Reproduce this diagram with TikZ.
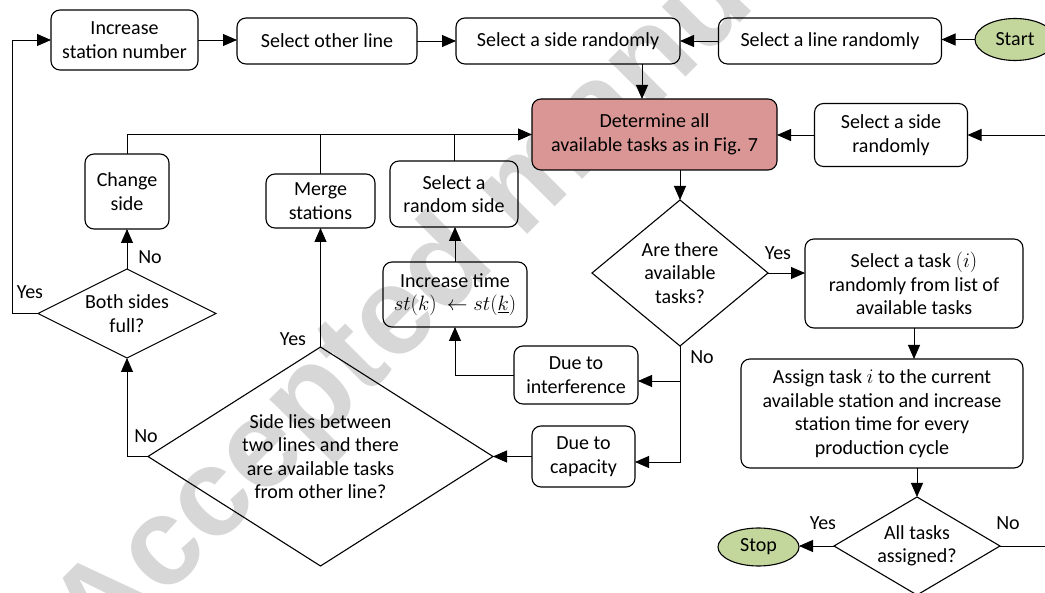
\documentclass[tikz,border=0pt]{standalone}
\usepackage{fontspec}
\setmainfont{Carlito}
\newfontfamily\wmfont{Liberation Sans}
\usetikzlibrary{shapes.geometric,arrows.meta}
\definecolor{detfill}{RGB}{217,150,148}
\definecolor{termfill}{RGB}{195,214,155}
\definecolor{wmgray}{RGB}{215,215,215}
\begin{document}
\begin{tikzpicture}[x=1pt,y=-1pt,
  font=\fontsize{20}{23.5}\selectfont,
  box/.style={draw, rounded corners=9pt, line width=1.1pt, align=center, inner sep=0pt, outer sep=0pt},
  term/.style={draw, ellipse, line width=1.1pt, fill=termfill, inner sep=0pt, outer sep=0pt},
  dia/.style={draw, diamond, line width=1.1pt, inner sep=0pt, outer sep=0pt},
  dtext/.style={align=center, inner sep=0pt},
  lbl/.style={inner sep=0pt},
  conn/.style={line width=0.9pt},
  arr/.style={conn, -{Triangle[length=14pt,width=12pt]}}
]
\useasboundingbox (0,0) rectangle (1045,593);
\clip (0,0) rectangle (1045,593);

% watermark
\node[rotate=45, text=wmgray, inner sep=0pt, font=\wmfont\bfseries\fontsize{125}{125}\selectfont] (wm) at (526,191) {Accepted manuscript};

% top row
\node[box, minimum width=147, minimum height=60] (inc) at (124.5,40) {Increase\\station number};
\node[box, minimum width=180, minimum height=46] (other) at (327,41) {Select other line};
\node[box, minimum width=224, minimum height=46] (sideTop) at (568,41) {Select a side randomly};
\node[box, minimum width=223, minimum height=46] (lineR) at (830,41) {Select a line randomly};
\node[term, minimum width=80, minimum height=42] (start) at (1015,39.5) {Start};

% second row
\node[box, fill=detfill, minimum width=245, minimum height=71] (det) at (654.5,134.5) {Determine all\\available tasks as in Fig. 7};
\node[box, minimum width=153, minimum height=63] (sideR) at (891,135) {Select a side\\randomly};

% right column
\node[dia, minimum width=176, minimum height=146] (are) at (680,273) {};
\node[dtext] (aret) at (are) {Are there\\available\\tasks?};
\node[box, minimum width=218, minimum height=89] (selTask) at (914,283.5) {Select a task $(i)$\\randomly from list of\\available tasks};
\node[box, minimum width=282, minimum height=109] (assign) at (882,413.5) {Assign task $i$ to the current\\available station and increase\\station time for every\\production cycle};
\node[dia, minimum width=166, minimum height=98] (allT) at (917,546) {};
\node[dtext] (allTt) at (allT) {All tasks\\assigned?};
\node[term, minimum width=81, minimum height=38] (stop) at (758.5,547) {Stop};

% middle
\node[box, minimum width=124, minimum height=58] (interf) at (576,375) {Due to\\interference};
\node[box, minimum width=103, minimum height=61] (cap) at (583.5,456.5) {Due to\\capacity};
\node[dia, minimum width=345, minimum height=219] (big) at (320.5,456.5) {};
\node[dtext] (bigt) at (big) {Side lies between\\two lines and there\\are available tasks\\from other line?};
\node[box, minimum width=109, minimum height=54] (merge) at (320.5,201) {Merge\\stations};
\node[box, minimum width=128, minimum height=66] (rand) at (454,194) {Select a\\random side};
\node[box, minimum width=144, minimum height=65] (incT) at (455,294.5) {Increase time\\$st(k)\ \leftarrow st(\underline{k})$};
\node[box, minimum width=84, minimum height=75] (change) at (127,191.5) {Change\\side};
\node[dia, minimum width=178, minimum height=89] (both) at (127,313.5) {};
\node[dtext] (botht) at (both) {Both sides\\full?};

% labels
\node[lbl] (l1) at (778,253) {Yes};
\node[lbl] (l2) at (702,357) {No};
\node[lbl] (l3) at (30,292) {Yes};
\node[lbl] (l4) at (150,257) {No};
\node[lbl] (l5) at (293,339) {Yes};
\node[lbl] (l6) at (146,436) {No};
\node[lbl] (l7) at (823,523) {Yes};
\node[lbl] (l8) at (1008,523) {No};

% connectors top row
\draw[arr] (start.west) -- (start.west -| lineR.east);
\draw[arr] (lineR.west) -- (lineR.west -| sideTop.east);
\draw[arr] (other.east) -- (other.east -| sideTop.west);
\draw[arr] (inc.east) -- (inc.east -| other.west);
\draw[arr] (sideTop.south -| 642,0) -- (det.north -| 642,0);
\draw[arr] (sideR.west) -- (sideR.west -| det.east);
\draw[arr] (allT.east) -- (1070,546) -- (1070,135) -- (sideR.east |- 0,135);

% right column
\draw[arr] (det.south -| are.north) -- (are.north);
\draw[arr] (are.east) -- (are.east -| selTask.west);
\draw[arr] (selTask.south) -- (selTask.south |- assign.north);
\draw[arr] (assign.south -| allT.north) -- (allT.north);
\draw[arr] (allT.west) -- (allT.west -| stop.east);

% No branch
\draw[arr] (are.south) -- (are.south |- 0,462) -- (cap.east |- 0,462);
\draw[arr] (are.south |- 0,381) -- (interf.east |- 0,381);
\draw[arr] (cap.west) -- (big.east);
\draw[arr] (interf.west) -- (interf.west -| incT.south) -- (incT.south);
\draw[arr] (incT.north) -- (incT.north |- rand.south);

% feed to det
\draw[arr] (change.north) -- (change.north |- det.west) -- (det.west);
\draw[conn] (merge.north) -- (merge.north |- det.west);
\draw[conn] (rand.north) -- (rand.north |- det.west);

% left
\draw[arr] (big.north) -- (big.north |- merge.south);
\draw[arr] (big.west) -- (big.west -| both.south) -- (both.south);
\draw[arr] (both.north) -- (change.south);
\draw[arr] (both.west) -- (both.west -| 12,0) -- (inc.west -| 12,0) -- (inc.west);
\end{tikzpicture}
\end{document}
